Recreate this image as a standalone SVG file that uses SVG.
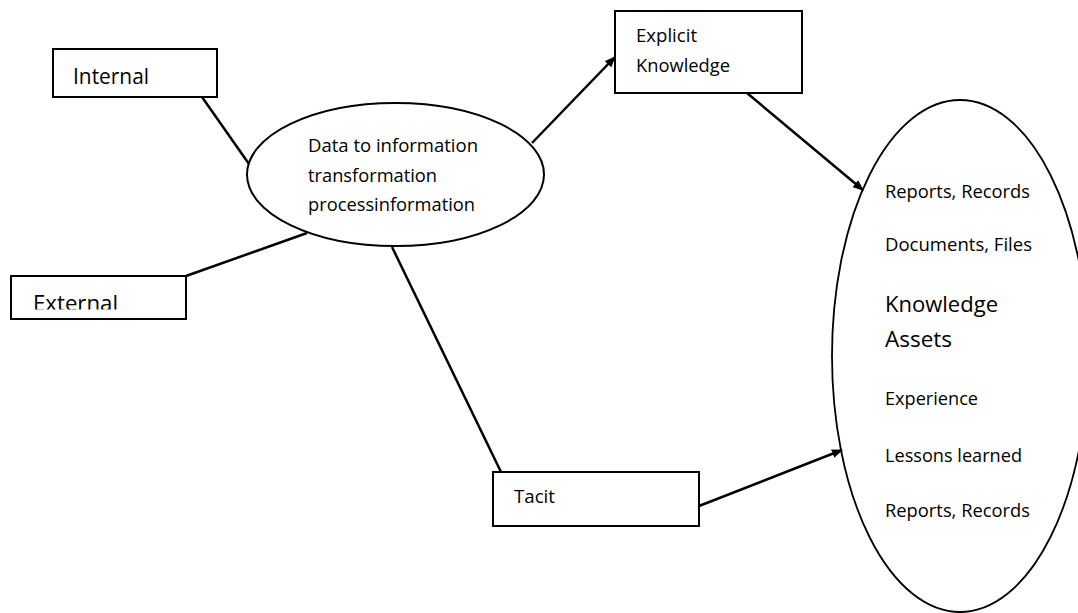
<svg xmlns="http://www.w3.org/2000/svg" width="1078" height="613" viewBox="0 0 1078 613">
<defs>
<marker id="arrow" markerWidth="11" markerHeight="9" refX="10" refY="4.5" orient="auto" markerUnits="userSpaceOnUse">
<path d="M0,0 L11,4.5 L0,9 z" fill="#000"/>
</marker>
<clipPath id="clipExt"><rect x="11" y="276" width="175" height="33.5"/></clipPath>
</defs>
<style>
.box{fill:#fff;stroke:#000;stroke-width:2}
.ell{fill:#fff;stroke:#000;stroke-width:2}
.big{fill:#fff;stroke:#000;stroke-width:1.8}
.conn{stroke:#000;stroke-width:2.5;fill:none}
.arr{stroke:#000;stroke-width:2.5;fill:none;marker-end:url(#arrow)}
text{font-family:"Open Sans","Liberation Sans",sans-serif;fill:#000}
.s{font-size:18.5px}
.l{font-size:21px}
.k{font-size:22.5px}
</style>
<rect width="1078" height="613" fill="#fff"/>

<g id="node-internal">
<rect class="box" x="53" y="49" width="164" height="48"/>
<text class="l" x="73" y="83.5" textLength="76" lengthAdjust="spacingAndGlyphs">Internal</text>
</g>

<g id="node-external">
<rect class="box" x="11" y="276" width="175" height="43"/>
<text class="l" x="33" y="311" textLength="85" lengthAdjust="spacingAndGlyphs" clip-path="url(#clipExt)">External</text>
</g>

<g id="node-process">
<ellipse class="ell" cx="395.5" cy="174.5" rx="148.5" ry="71.5"/>
<text class="s" x="308" y="152" textLength="170" lengthAdjust="spacingAndGlyphs">Data to information</text>
<text class="s" x="308" y="182" textLength="129" lengthAdjust="spacingAndGlyphs">transformation</text>
<text class="s" x="308" y="211" textLength="167" lengthAdjust="spacingAndGlyphs">processinformation</text>
</g>

<g id="node-explicit">
<rect class="box" x="615" y="11" width="187" height="82"/>
<text class="s" x="636" y="42" textLength="61" lengthAdjust="spacingAndGlyphs">Explicit</text>
<text class="s" x="636" y="72" textLength="94" lengthAdjust="spacingAndGlyphs">Knowledge</text>
</g>

<g id="node-tacit">
<rect class="box" x="493" y="472" width="206" height="54"/>
<text class="s" x="514" y="503" textLength="41" lengthAdjust="spacingAndGlyphs">Tacit</text>
</g>

<g id="node-assets">
<ellipse class="big" cx="960" cy="356" rx="128" ry="256"/>
<text class="s" x="885" y="198" textLength="145" lengthAdjust="spacingAndGlyphs">Reports, Records</text>
<text class="s" x="885" y="251" textLength="147" lengthAdjust="spacingAndGlyphs">Documents, Files</text>
<text class="k" x="885" y="312" textLength="113" lengthAdjust="spacingAndGlyphs">Knowledge</text>
<text class="k" x="885" y="347" textLength="67" lengthAdjust="spacingAndGlyphs">Assets</text>
<text class="s" x="885" y="405" textLength="93" lengthAdjust="spacingAndGlyphs">Experience</text>
<text class="s" x="885" y="462" textLength="137" lengthAdjust="spacingAndGlyphs">Lessons learned</text>
<text class="s" x="885" y="517" textLength="145" lengthAdjust="spacingAndGlyphs">Reports, Records</text>
</g>

<g id="connectors">
<line class="conn" x1="202" y1="97" x2="249" y2="164"/>
<line class="conn" x1="186" y1="276" x2="307" y2="233"/>
<line class="conn" x1="392" y1="247" x2="501" y2="472"/>
<line class="arr" x1="532" y1="143" x2="615" y2="57"/>
<line class="arr" x1="747" y1="93" x2="863" y2="190"/>
<line class="arr" x1="699" y1="506" x2="842" y2="450"/>
</g>
</svg>
